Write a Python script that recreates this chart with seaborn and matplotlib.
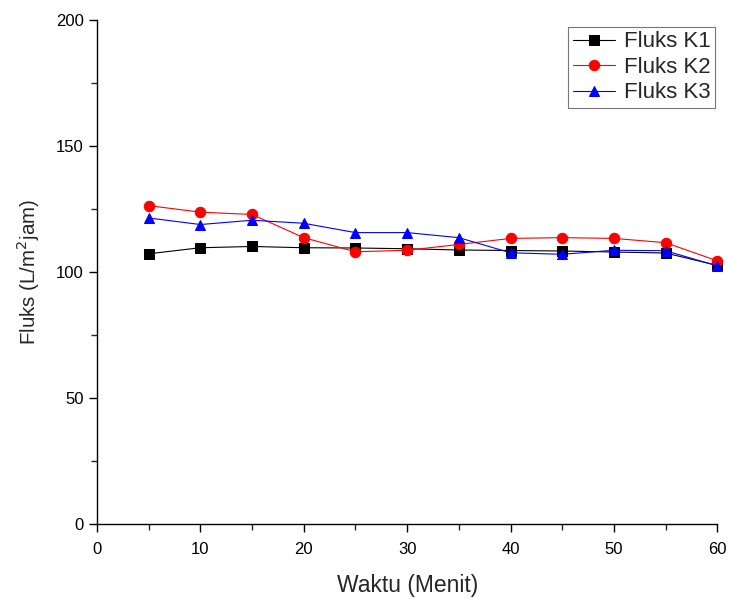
import matplotlib
matplotlib.use("Agg")
import matplotlib.pyplot as plt
from matplotlib.ticker import MultipleLocator
import seaborn as sns
import pandas as pd

waktu = [5, 10, 15, 20, 25, 30, 35, 40, 45, 50, 55, 60]
fluks_k1 = [107.2, 109.6, 110.1, 109.6, 109.5, 109.2, 108.7, 108.5, 108.3, 107.9, 107.5, 102.6]
fluks_k2 = [126.3, 123.7, 122.8, 113.6, 108.0, 108.6, 110.9, 113.3, 113.6, 113.3, 111.6, 104.4]
fluks_k3 = [121.4, 118.8, 120.5, 119.3, 115.6, 115.6, 113.6, 107.6, 107.0, 108.6, 108.4, 102.4]
labels = ["Fluks K1", "Fluks K2", "Fluks K3"]

sns.set_theme(style="ticks")
plt.rcParams['font.family'] = ['Liberation Sans', 'DejaVu Sans']

fig = plt.figure(figsize=(7.29, 5.99), dpi=100)
ax = fig.add_axes([0.133, 0.125, 0.851, 0.842])

series = [fluks_k1, fluks_k2, fluks_k3]
colors = ["black", "red", "blue"]
markers = ["s", "o", "^"]
for vals, lab, col, mk in zip(series, labels, colors, markers):
    df = pd.DataFrame({"Waktu": waktu, "Fluks": vals})
    sns.lineplot(data=df, x="Waktu", y="Fluks", ax=ax, color=col, marker=mk,
                 markersize=7.5, markeredgecolor=col, linewidth=0.8, label=lab,
                 clip_on=False)

ax.set_xlim(0, 60)
ax.set_ylim(0, 200)
ax.xaxis.set_major_locator(MultipleLocator(10))
ax.xaxis.set_minor_locator(MultipleLocator(5))
ax.yaxis.set_major_locator(MultipleLocator(50))
ax.yaxis.set_minor_locator(MultipleLocator(25))
ax.tick_params(which="major", direction="out", length=6, width=1, labelsize=12, colors="black")
ax.tick_params(axis="x", which="major", pad=7)
ax.tick_params(which="minor", direction="out", length=4, width=1)
for s in ["top", "right"]:
    ax.spines[s].set_visible(False)
for s in ["left", "bottom"]:
    ax.spines[s].set_color("black")
    ax.spines[s].set_linewidth(1)

ax.set_xlabel("Waktu (Menit)", fontsize=16.5, labelpad=12)
ax.set_ylabel("Fluks (L/m$^2$jam)", fontsize=14.8, labelpad=10)

leg = ax.legend(loc="upper right", bbox_to_anchor=(1.0, 0.99), fontsize=16, frameon=True,
                fancybox=False, edgecolor="#555555", handlelength=1.9,
                borderpad=0.2, labelspacing=0.2, handletextpad=0.4, borderaxespad=0.1)
leg.get_frame().set_linewidth(0.8)

fig.savefig("out.png", dpi=100, facecolor="white")
